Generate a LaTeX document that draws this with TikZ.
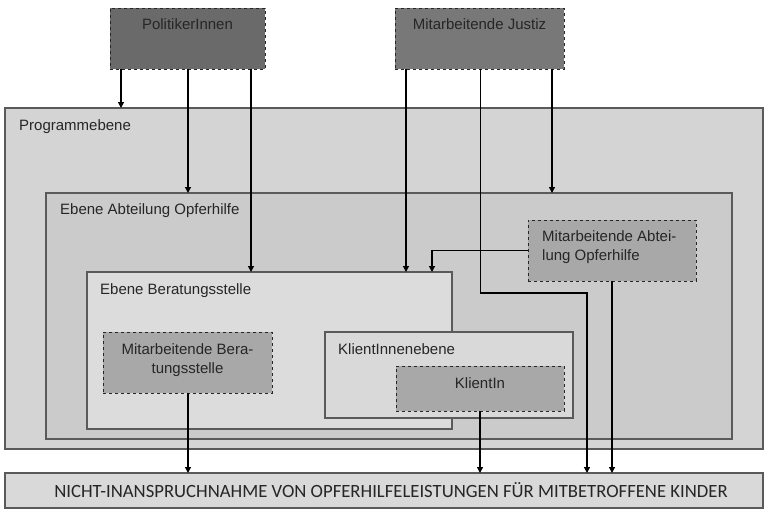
\documentclass[tikz,border=0pt]{standalone}
\usepackage{fontspec}
\setmainfont{Liberation Sans}
\newfontfamily\capsfont{Carlito}
\usepackage{xcolor}
\usetikzlibrary{positioning,arrows.meta}

\definecolor{polfill}{HTML}{6A6A6A}
\definecolor{jusfill}{HTML}{787878}
\definecolor{actfill}{HTML}{A8A8A8}
\definecolor{progfill}{HTML}{D4D4D4}
\definecolor{abtfill}{HTML}{CBCBCB}
\definecolor{berfill}{HTML}{DCDCDC}
\definecolor{klifill}{HTML}{D9D9D9}
\definecolor{framegray}{HTML}{5A5A5A}

\begin{document}
\begin{tikzpicture}[x=1pt, y=-1pt, >={Triangle[length=6pt,width=6pt]},
    level/.style={draw=framegray, line width=1.1pt, fill=#1, inner sep=0pt, outer sep=0pt, anchor=north west},
    actor/.style={draw=black!85, dashed, line width=0.9pt, fill=#1, inner sep=0pt, outer sep=0pt, anchor=north west},
    lbl/.style={font=\fontsize{15}{19}\selectfont, inner sep=0pt, text=black!85},
    flow/.style={->, line width=1.2pt}]
    \useasboundingbox (0,0) rectangle (765,509);

    % nested levels
    \node[level=progfill, minimum width=758pt, minimum height=341pt] (prog) at (5,108) {};
    \node[level=abtfill, minimum width=686pt, minimum height=246pt] (abt) at (46,193) {};
    \node[level=berfill, minimum width=365pt, minimum height=157pt] (ber) at (87,272) {};
    \node[level=klifill, minimum width=248pt, minimum height=86pt] (kli) at (325,332) {};
    \node[lbl, below right=11pt and 14pt of prog.north west, anchor=north west] (progtxt) {Programmebene};
    \node[lbl, below right=10pt and 14pt of abt.north west, anchor=north west] (abttxt) {Ebene Abteilung Opferhilfe};
    \node[lbl, below right=11pt and 13pt of ber.north west, anchor=north west] (bertxt) {Ebene Beratungsstelle};
    \node[lbl, below right=11pt and 13pt of kli.north west, anchor=north west] (klitxt) {KlientInnenebene};

    % outcome
    \node[level=klifill, minimum width=758pt, minimum height=35pt,
          font=\capsfont\fontsize{18.7}{20}\selectfont, text=black!85] (outcome) at (5,473)
          {\hspace{14pt}NICHT-INANSPRUCHNAHME VON OPFERHILFELEISTUNGEN FÜR MITBETROFFENE KINDER};

    % actor boxes
    \node[actor=polfill, minimum width=155pt, minimum height=61pt] (pol) at (110,8) {};
    \node[actor=jusfill, minimum width=169pt, minimum height=61pt] (jus) at (395,8) {};
    \node[actor=actfill, minimum width=168pt, minimum height=61pt] (mabt) at (528,220) {};
    \node[actor=actfill, minimum width=169pt, minimum height=61pt] (mber) at (103,332) {};
    \node[actor=actfill, minimum width=168pt, minimum height=45pt] (klient) at (396,366) {};

    % connector columns
    \coordinate (xa) at (121,0);
    \coordinate (xb) at (188,0);
    \coordinate (xc) at (251,0);
    \coordinate (xd) at (406,0);
    \coordinate (xe) at (480,0);
    \coordinate (xf) at (552,0);
    \coordinate (xg) at (432,0);
    \coordinate (xh) at (587,0);
    \coordinate (bend) at (480,293);

    % influences from above
    \draw[flow] (pol.south -| xa) -- (prog.north -| xa);
    \draw[flow] (pol.south -| xb) -- (abt.north -| xb);
    \draw[flow] (pol.south -| xc) -- (ber.north -| xc);
    \draw[flow] (jus.south -| xd) -- (ber.north -| xd);
    \draw[flow] (jus.south -| xf) -- (abt.north -| xf);
    \draw[flow] (mabt.west) -| (ber.north -| xg);

    % effects on the outcome
    \draw[line width=1pt] (jus.south -| xe) -- (bend);
    \draw[flow] (bend) -| (outcome.north -| xh);
    \draw[flow] (mber.south -| xb) -- (outcome.north -| xb);
    \draw[flow] (klient.south -| xe) -- (outcome.north -| xe);
    \draw[flow] (mabt.south) -- (outcome.north -| mabt.south);

    % actor labels
    \node[lbl, below=10pt of pol.north] (poltxt) {PolitikerInnen};
    \node[lbl, below=10pt of jus.north] (justxt) {Mitarbeitende Justiz};
    \node[lbl, align=left, below right=10pt and 14pt of mabt.north west, anchor=north west] (mabttxt) {Mitarbeitende Abtei-\\lung Opferhilfe};
    \node[lbl, align=center, below=11pt of mber.north] (mbertxt) {Mitarbeitende Bera-\\tungsstelle};
    \node[lbl, below=11pt of klient.north] (klienttxt) {KlientIn};
\end{tikzpicture}
\end{document}
